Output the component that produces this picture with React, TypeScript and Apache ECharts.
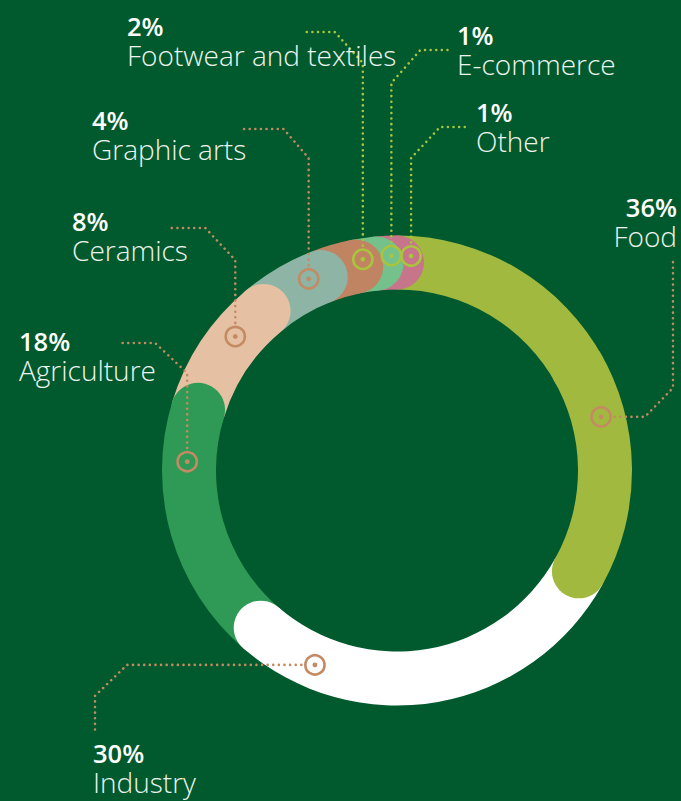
import React, { useEffect, useRef } from "react";
import * as echarts from "echarts";

// ---------- data ----------
const categories = [
  "Food",
  "Industry",
  "Agriculture",
  "Ceramics",
  "Graphic arts",
  "Footwear and textiles",
  "E-commerce",
  "Other",
];
const shares = [36, 30, 18, 8, 4, 2, 1, 1];

// ---------- style ----------
const BG = "#005a2d";
const segmentColors = [
  "#a2b93f",
  "#ffffff",
  "#2e9a55",
  "#e5c0a2",
  "#8db4a5",
  "#c08462",
  "#74c18b",
  "#c6758a",
];
const BROWN = "#c38a64";
const LIME = "#a9c43d";
const markerColors = [BROWN, BROWN, BROWN, BROWN, BROWN, LIME, LIME, LIME];
const FONT = "'Open Sans'";
const PCT_SIZE = 25.5;
const NAME_SIZE = 28;

// ---------- layout ----------
const CX = 397;
const CY = 470.5;
const R_OUT = 235;
const R_IN = 181;
const R_MID = (R_OUT + R_IN) / 2;
const BAND = R_OUT - R_IN;
const ANGLE_EXP = 0.85; // power scale for the angular extent
const markerR = [211, 211, 210, 210, 211, 214, 215, 215];
const markerFrac = [0.57, 0.75, 0.667, 0.46, 0.42, 0.48, 0.42, 0.35];
// leader: dir, knee, diagonal dx/dy, end
const leaders = [
  { dir: "right", knee: 645, dx: 28, dy: -29, end: 262 },
  { dir: "left", knee: 127, dx: -32, dy: 31, end: 733 },
  { dir: "up", knee: 373, dx: -32, dy: -30, end: 122 },
  { dir: "up", knee: 260, dx: -30, dy: -32, end: 170 },
  { dir: "up", knee: 158, dx: -25, dy: -29, end: 242 },
  { dir: "up", knee: 63, dx: -28, dy: -31, end: 305 },
  { dir: "up", knee: 83, dx: 29, dy: -33, end: 452 },
  { dir: "up", knee: 158, dx: 29, dy: -31, end: 470 },
];
// label anchor: x, y of percent line centre, alignment
const labelPos = [
  { x: 677, y: 207, align: "right" },
  { x: 93, y: 753, align: "left" },
  { x: 19, y: 341, align: "left" },
  { x: 72, y: 221, align: "left" },
  { x: 92, y: 120, align: "left" },
  { x: 127, y: 26, align: "left" },
  { x: 457, y: 35, align: "left" },
  { x: 476, y: 112, align: "left" },
];
const LINE_GAP = 29;

const rad = (deg: number) => ((deg - 90) * Math.PI) / 180;
const polar = (r: number, deg: number) => [
  CX + r * Math.cos(rad(deg)),
  CY + r * Math.sin(rad(deg)),
];

export default function App() {
  const ref = useRef<HTMLDivElement>(null);

  useEffect(() => {
    if (!ref.current) return;
    const chart = echarts.init(ref.current, null, { renderer: "svg" });

    const weights = shares.map((v) => Math.pow(v, ANGLE_EXP));
    const wsum = weights.reduce((a, b) => a + b, 0);
    const spans = weights.map((w) => (w / wsum) * 360);
    const ends: number[] = [];
    spans.reduce((acc, s) => {
      ends.push(acc + s);
      return acc + s;
    }, 0);
    const starts = ends.map((e, i) => e - spans[i]);
    const capDeg = ((BAND / 2) / R_MID) * (180 / Math.PI);
    const n = shares.length;

    const renderItem = (params: any, api: any) => {
      const i = params.dataIndex;
      const children: any[] = [];
      const color = segmentColors[i];
      const s = starts[i];
      const e = ends[i];
      const cap = polar(R_MID, e);
      // z order: each segment's rounded end sits over the next one
      const z = n - i + 1;
      if (i === 0) {
        const mid = (s + e) / 2;
        children.push({
          type: "sector",
          z2: 1,
          shape: { cx: CX, cy: CY, r0: R_IN, r: R_OUT, startAngle: rad(s), endAngle: rad(mid + 2), clockwise: true },
          style: { fill: color },
        });
        children.push({
          type: "sector",
          z2: n + 2,
          shape: { cx: CX, cy: CY, r0: R_IN, r: R_OUT, startAngle: rad(mid), endAngle: rad(e), clockwise: true },
          style: { fill: color },
        });
        children.push({
          type: "circle",
          z2: n + 2,
          shape: { cx: cap[0], cy: cap[1], r: BAND / 2 },
          style: { fill: color },
        });
      } else {
        children.push({
          type: "sector",
          z2: z,
          shape: { cx: CX, cy: CY, r0: R_IN, r: R_OUT, startAngle: rad(s), endAngle: rad(e), clockwise: true },
          style: { fill: color },
        });
        children.push({
          type: "circle",
          z2: z,
          shape: { cx: cap[0], cy: cap[1], r: BAND / 2 },
          style: { fill: color },
        });
      }

      // marker at visible part of the segment
      const visStart = (i === 0 ? ends[n - 1] - 360 : ends[i - 1]) + capDeg;
      const visEnd = e + capDeg;
      const mAng = visStart + markerFrac[i] * (visEnd - visStart);
      const [mx, my] = polar(markerR[i], mAng);
      const mc = markerColors[i];
      const ringR = 9.6;

      const L = leaders[i];
      let pts: number[][] = [];
      if (L.dir === "up") {
        pts = [
          [mx, my - ringR - 4],
          [mx, L.knee],
          [mx + L.dx, L.knee + L.dy],
          [L.end, L.knee + L.dy],
        ];
      } else if (L.dir === "right") {
        pts = [
          [mx + ringR + 4, my],
          [L.knee, my],
          [L.knee + L.dx, my + L.dy],
          [L.knee + L.dx, L.end],
        ];
      } else {
        pts = [
          [mx - ringR - 4, my],
          [L.knee, my],
          [L.knee + L.dx, my + L.dy],
          [L.knee + L.dx, L.end],
        ];
      }
      children.push({
        type: "polyline",
        z2: 50,
        shape: { points: pts },
        style: { stroke: mc, lineWidth: 2.6, lineDash: [0.01, 5.6], lineCap: "round", fill: null },
      });
      children.push({
        type: "circle",
        z2: 51,
        shape: { cx: mx, cy: my, r: ringR },
        style: { fill: null, stroke: mc, lineWidth: 2.6 },
      });
      children.push({
        type: "circle",
        z2: 51,
        shape: { cx: mx, cy: my, r: 2.4 },
        style: { fill: mc },
      });

      const lp = labelPos[i];
      children.push({
        type: "text",
        z2: 60,
        style: {
          text: `{p|${api.value(0)}%}\n{n|${categories[i]}}`,
          x: lp.x,
          y: lp.y + LINE_GAP / 2,
          align: lp.align,
          verticalAlign: "middle",
          rich: {
            p: {
              fill: "#ffffff",
              fontFamily: FONT,
              fontWeight: 600,
              fontSize: PCT_SIZE,
              lineHeight: LINE_GAP,
              align: lp.align,
            },
            n: {
              fill: "#eef3ee",
              fontFamily: FONT,
              fontWeight: 300,
              fontSize: NAME_SIZE,
              lineHeight: LINE_GAP,
              align: lp.align,
            },
          },
        },
      });

      return { type: "group", children };
    };

    chart.setOption({
      animation: false,
      backgroundColor: BG,
      series: [
        {
          type: "custom",
          coordinateSystem: "none",
          silent: true,
          data: shares,
          renderItem,
        },
      ],
    });
    return () => chart.dispose();
  }, []);

  return (
    <div
      ref={ref}
      style={{ position: "fixed", left: 0, top: 0, width: 681, height: 801 }}
    />
  );
}
